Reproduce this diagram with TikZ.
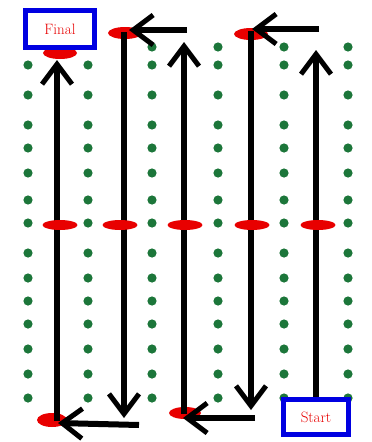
\documentclass[tikz,border=0pt]{standalone}
\usetikzlibrary{arrows.meta}
\definecolor{plant}{RGB}{28,118,58}
\definecolor{marker}{RGB}{232,0,0}
\definecolor{framecol}{RGB}{0,0,225}
\begin{document}
\begin{tikzpicture}[x=1pt,y=-1pt,
  plantdot/.style={fill=plant,draw=none},
  pass/.style={line width=6pt,-{Straight Barb[length=20pt,width=30pt,line width=5pt]}},
  stopmark/.style={fill=marker,draw=none},
  endbox/.style={draw=framecol,line width=5pt,fill=white,text=marker,
    font=\fontsize{15}{16}\selectfont,inner sep=0pt}]
\useasboundingbox (0,0) rectangle (372,442);
\fill[white] (0,0) rectangle (372,442);

% rows of plants
\foreach \x/\first in {28/2,88/2,152/1,218/1,284/1,348/1}{
  \foreach \y [count=\i] in {47,65,95,125,148,173,200,223,253,278,301,324,349,374,398}{
    \ifnum\i<\first\else
      \fill[plantdot] (\x,\y) circle (4.6);
    \fi
  }
}

% turning points at the ends of the passes
\fill[stopmark] (125,33) ellipse (17 and 6);
\fill[stopmark] (251,34) ellipse (17 and 6);
\fill[stopmark] (60,53) ellipse (17 and 6);
\fill[stopmark] (52,420) ellipse (15 and 7);
\fill[stopmark] (185,413) ellipse (16 and 6);

% start and finish
\node[endbox,minimum width=69pt,minimum height=37pt] (final) at (60,29) {Final};
\node[endbox,minimum width=65pt,minimum height=35pt] (start) at (316,417) {Start};

% route coordinates
\coordinate (p5top) at (316,50);
\coordinate (t5a) at (319,29);
\coordinate (t5b) at (252,29);
\coordinate (p4top) at (251,31);
\coordinate (p4bot) at (251,410);
\coordinate (b4a) at (255,418);
\coordinate (b4b) at (183,418);
\coordinate (p3bot) at (184,414);
\coordinate (p3top) at (184,42);
\coordinate (t3a) at (187,30);
\coordinate (t3b) at (129,30);
\coordinate (p2top) at (124,32);
\coordinate (p2bot) at (124,418);
\coordinate (b2a) at (139,425);
\coordinate (b2b) at (58,423);
\coordinate (p1bot) at (57,421);
\coordinate (p1top) at (57,60);

% passes through the field
\draw[pass] (start.north -| p5top) -- (p5top);
\draw[pass] (t5a) -- (t5b);
\draw[pass] (p4top) -- (p4bot);
\draw[pass] (b4a) -- (b4b);
\draw[pass] (p3bot) -- (p3top);
\draw[pass] (t3a) -- (t3b);
\draw[pass] (p2top) -- (p2bot);
\draw[pass] (b2a) -- (b2b);
\draw[pass] (p1bot) -- (p1top);

% halfway markers
\foreach \x in {60,120,185,252,318}
  \fill[stopmark] (\x,225) ellipse (17.5 and 5);
\end{tikzpicture}
\end{document}
